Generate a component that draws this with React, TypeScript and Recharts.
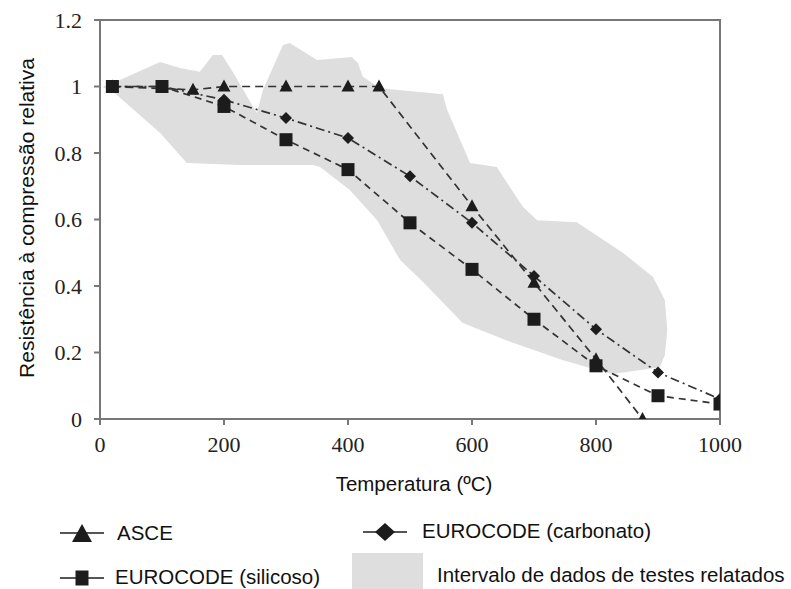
import React from "react";
import {
  Area,
  ComposedChart,
  Line,
  ReferenceArea,
  XAxis,
  YAxis,
} from "recharts";

// temperatures (ºC) and relative strength per curve
const asceTemps = [20, 150, 200, 300, 400, 450, 600, 700, 800, 875];
const asceValues = [1, 0.99, 1, 1, 1, 1, 0.64, 0.41, 0.18, 0];

const euroTemps = [20, 100, 200, 300, 400, 500, 600, 700, 800, 900, 1000];
const silicosoValues = [1, 1, 0.94, 0.84, 0.75, 0.59, 0.45, 0.3, 0.16, 0.07, 0.045];
const carbonatoValues = [1, 1, 0.96, 0.905, 0.845, 0.73, 0.59, 0.43, 0.27, 0.14, 0.06];

// outline of the reported test data range (upper edge left->right, then lower edge back)
const bandTemps = [
  5, 24, 97, 129, 161, 182, 197, 215, 253, 263, 295, 306, 350, 406, 416, 424,
  452, 553, 560, 597, 640, 682, 705, 769, 844, 892, 911, 915, 911, 903,
  827, 802, 747, 666, 585, 521, 484, 447, 403, 355, 344, 226, 140, 97, 24, 5,
];
const bandValues = [
  1.0, 1.013, 1.074, 1.056, 1.044, 1.095, 1.095, 1.041, 0.92, 0.99, 1.125, 1.131,
  1.08, 1.089, 1.071, 1.029, 0.995, 0.977, 0.929, 0.77, 0.758, 0.638, 0.598, 0.592,
  0.499, 0.427, 0.358, 0.268, 0.192, 0.156, 0.135, 0.147, 0.177, 0.229, 0.289,
  0.412, 0.478, 0.598, 0.689, 0.758, 0.764, 0.764, 0.77, 0.86, 0.98, 0.998,
];

const xTicks = [0, 200, 400, 600, 800, 1000];
const yTicks = [0, 0.2, 0.4, 0.6, 0.8, 1, 1.2];

const toPoints = (xs: number[], ys: number[]) =>
  xs.map((x, i) => ({ x, y: ys[i] }));

const asceData = toPoints(asceTemps, asceValues);
const silicosoData = toPoints(euroTemps, silicosoValues);
const carbonatoData = toPoints(euroTemps, carbonatoValues);
const bandData = toPoints(bandTemps, bandValues);

const BAND = "#dedede";
const MARK = "#1c1c1c";
const LINE = "#333";
const AXIS = "#777";
const SANS = "'Liberation Sans', Arial, sans-serif";
const SERIF = "'Liberation Serif', 'Times New Roman', serif";

function triangleDot(props: any) {
  const { cx, cy, index } = props;
  if (cx == null || cy == null) return <g key={`t${index}`} />;
  return (
    <path
      key={`t${index}`}
      d={`M${cx},${cy - 7}L${cx + 6.5},${cy + 5}L${cx - 6.5},${cy + 5}Z`}
      fill={MARK}
    />
  );
}

function squareDot(props: any) {
  const { cx, cy, index } = props;
  if (cx == null || cy == null) return <g key={`s${index}`} />;
  return <rect key={`s${index}`} x={cx - 6.5} y={cy - 6.5} width={13} height={13} fill={MARK} />;
}

function diamondDot(props: any) {
  const { cx, cy, index } = props;
  if (cx == null || cy == null) return <g key={`d${index}`} />;
  return (
    <path
      key={`d${index}`}
      d={`M${cx},${cy - 6}L${cx + 6},${cy}L${cx},${cy + 6}L${cx - 6},${cy}Z`}
      fill={MARK}
    />
  );
}

function LegendMark({ kind }: { kind: "tri" | "sq" | "dia" }) {
  return (
    <svg width={46} height={24} style={{ display: "block" }}>
      <line x1={1} y1={12} x2={45} y2={12} stroke={MARK} strokeWidth={1.5} />
      {kind === "tri" && <path d="M23,3L33,21L13,21Z" fill={MARK} />}
      {kind === "sq" && <rect x={16.5} y={4.5} width={13} height={15} fill={MARK} />}
      {kind === "dia" && <path d="M23,3L33,12L23,21L13,12Z" fill={MARK} />}
    </svg>
  );
}

const textStyle: React.CSSProperties = {
  position: "absolute",
  fontFamily: SANS,
  fontSize: 20.5,
  lineHeight: "20.5px",
  color: "#111",
  whiteSpace: "nowrap",
};

export default function App() {
  return (
    <div style={{ position: "absolute", left: 0, top: 0, width: 791, height: 589, background: "#fff", overflow: "hidden" }}>
      <ComposedChart
        width={791}
        height={500}
        margin={{ top: 20, right: 71, bottom: 1, left: 0 }}
      >
        <XAxis
          dataKey="x"
          type="number"
          domain={[0, 1000]}
          ticks={xTicks}
          height={80}
          tickSize={6}
          tickMargin={11}
          axisLine={{ stroke: AXIS, strokeWidth: 2 }}
          tickLine={{ stroke: AXIS, strokeWidth: 2 }}
          tick={{ fill: "#222", fontSize: 22, fontFamily: SERIF }}
          allowDataOverflow
        />
        <YAxis
          type="number"
          domain={[0, 1.2]}
          ticks={yTicks}
          width={100}
          tickSize={6}
          tickMargin={12}
          axisLine={{ stroke: AXIS, strokeWidth: 2 }}
          tickLine={{ stroke: AXIS, strokeWidth: 2 }}
          tick={{ fill: "#222", fontSize: 22, fontFamily: SERIF }}
          allowDataOverflow
        />
        <Area
          data={bandData}
          dataKey="y"
          type="linear"
          fill={BAND}
          fillOpacity={1}
          stroke="none"
          dot={false}
          activeDot={false}
          isAnimationActive={false}
        />
        <ReferenceArea
          x1={0}
          x2={1000}
          y1={0}
          y2={1.2}
          fill="none"
          stroke={AXIS}
          strokeWidth={2}
          ifOverflow="visible"
        />
        <Line
          data={asceData}
          dataKey="y"
          type="linear"
          stroke={LINE}
          strokeWidth={1.7}
          strokeDasharray="8 5"
          dot={triangleDot}
          activeDot={false}
          isAnimationActive={false}
        />
        <Line
          data={carbonatoData}
          dataKey="y"
          type="linear"
          stroke={LINE}
          strokeWidth={1.7}
          strokeDasharray="9 4 2 4"
          dot={diamondDot}
          activeDot={false}
          isAnimationActive={false}
        />
        <Line
          data={silicosoData}
          dataKey="y"
          type="linear"
          stroke={LINE}
          strokeWidth={1.7}
          strokeDasharray="7 5"
          dot={squareDot}
          activeDot={false}
          isAnimationActive={false}
        />
      </ComposedChart>

      {/* axis titles */}
      <div
        style={{
          ...textStyle,
          fontSize: 21,
          lineHeight: "24px",
          width: 400,
          height: 24,
          textAlign: "center",
          left: 27 - 200,
          top: 218 - 12,
          transform: "rotate(-90deg)",
        }}
      >
        Resistência à compressão relativa
      </div>
      <div style={{ ...textStyle, width: 300, textAlign: "center", left: 264, top: 474 }}>
        Temperatura (ºC)
      </div>

      {/* legend */}
      <div style={{ position: "absolute", left: 59, top: 521 }}>
        <LegendMark kind="tri" />
      </div>
      <div style={{ ...textStyle, left: 117, top: 523 }}>ASCE</div>

      <div style={{ position: "absolute", left: 59, top: 566 }}>
        <LegendMark kind="sq" />
      </div>
      <div style={{ ...textStyle, left: 115, top: 567 }}>EUROCODE (silicoso)</div>

      <div style={{ position: "absolute", left: 362, top: 520 }}>
        <LegendMark kind="dia" />
      </div>
      <div style={{ ...textStyle, left: 422, top: 521 }}>EUROCODE (carbonato)</div>

      <div style={{ position: "absolute", left: 352, top: 553, width: 71, height: 40, background: BAND }} />
      <div style={{ ...textStyle, left: 437, top: 565 }}>Intervalo de dados de testes relatados</div>
    </div>
  );
}
